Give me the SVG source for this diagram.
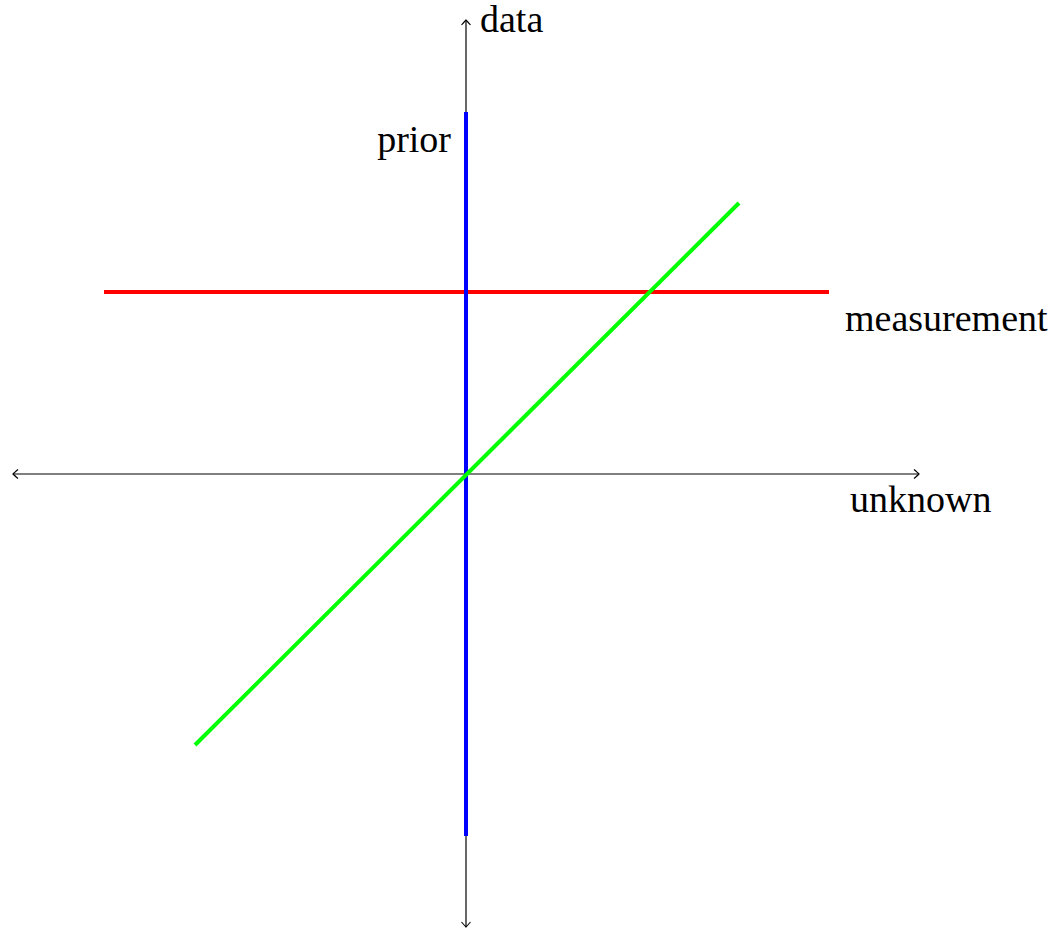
<svg xmlns="http://www.w3.org/2000/svg" width="1052" height="928" viewBox="0 0 1052 928">
<defs>
<marker id="tip" viewBox="-8 -6 10 12" markerWidth="10" markerHeight="12" refX="0" refY="0" orient="auto-start-reverse" markerUnits="userSpaceOnUse">
<path d="M-5,-4.5 Q-1,-1 0,0 Q-1,1 -5,4.5" fill="none" stroke="#000" stroke-width="1.1"/>
</marker>
</defs>
<style>
.axis{stroke:#000;stroke-width:1.2;fill:none}
.lbl{font-family:"Liberation Serif","Times New Roman",serif;font-size:38px;fill:#000}
.c{stroke-width:4;fill:none}
</style>
<rect width="1052" height="928" fill="#fff"/>
<g id="connectors">
<line class="axis" x1="13" y1="474" x2="919" y2="474" marker-start="url(#tip)" marker-end="url(#tip)"/>
<line class="axis" x1="466" y1="927" x2="466" y2="20" marker-start="url(#tip)" marker-end="url(#tip)"/>
<line id="measurement-line" class="c" x1="104" y1="292" x2="829" y2="292" stroke="#ff0000"/>
<line id="prior-line" class="c" x1="466" y1="112" x2="466" y2="836" stroke="#0000ff"/>
<line id="model-line" class="c" x1="195" y1="745" x2="739" y2="203" stroke="#00ff00"/>
</g>
<g id="label-data"><text class="lbl" x="480" y="32">data</text></g>
<g id="label-prior"><text class="lbl" x="451" y="152" text-anchor="end">prior</text></g>
<g id="label-measurement"><text class="lbl" x="845" y="331">measurement</text></g>
<g id="label-unknown"><text class="lbl" x="850" y="512">unknown</text></g>
</svg>
